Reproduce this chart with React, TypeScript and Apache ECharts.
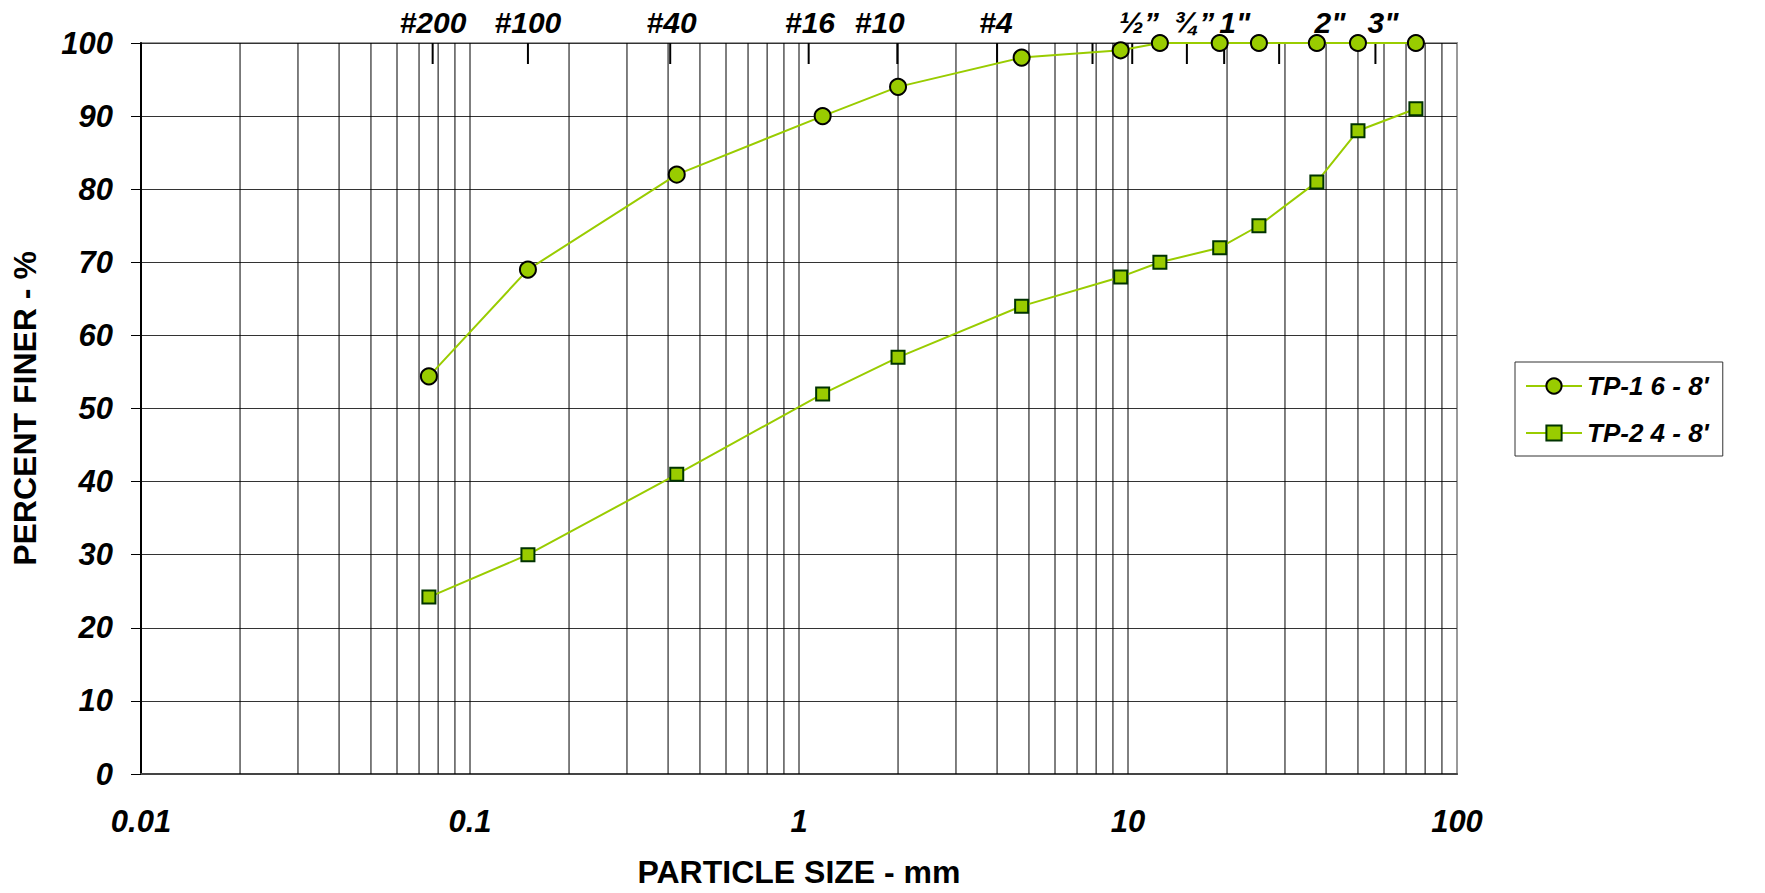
import React, { useEffect, useRef } from "react";
import * as echarts from "echarts";

// particle sizes (mm) of the test points
const sizes = [0.075, 0.15, 0.425, 1.18, 2.0, 4.75, 9.5, 12.5, 19, 25, 37.5, 50, 75];
// percent finer
const tp1 = [54.4, 69, 82, 90, 94, 98, 99, 100, 100, 100, 100, 100, 100];
const tp2 = [24.2, 30, 41, 52, 57, 64, 68, 70, 72, 75, 81, 88, 91];
const seriesNames = ["TP-1 6 - 8'", "TP-2 4 - 8'"];

// sieve marks along the top of the plot
const sieveTickSizes = [0.077, 0.15, 0.406, 1.07, 1.99, 4.0, 7.8, 10.3, 15.1, 19.6, 28.8, 56.5];
const sieveLabels = ["#200", "#100", "#40", "#16", "#10", "#4", "½”", "¾”", "1\"", "2\"", "3\""];
const sieveLabelSizes = [0.0772, 0.15, 0.41, 1.08, 1.76, 3.97, 10.8, 15.9, 21.1, 41.1, 59.6];

// log grid: mantissas within each decade
const mantissas = [1, 2, 3, 4, 5, 6, 7, 8, 9];
const decades = [0.01, 0.1, 1, 10];

const FONT = "'Liberation Sans', Arial, sans-serif";
const GREEN = "#99cc00";

export default function App() {
  const ref = useRef<HTMLDivElement>(null);
  useEffect(() => {
    document.body.style.margin = "0";
    document.body.style.overflow = "hidden";
    const chart = echarts.init(ref.current!, null, { renderer: "svg" });
    const gridValues: number[] = [];
    decades.forEach((d) => mantissas.forEach((m) => {
      const v = +(d * m).toPrecision(3);
      if (v > 0.01 && v < 100) gridValues.push(v);
    }));
    chart.setOption({
      animation: false,
      backgroundColor: "#fff",
      textStyle: { fontFamily: FONT },
      grid: {
        left: 141, right: 308, top: 43, bottom: 116,
        show: true, borderColor: "#9a9a9a", borderWidth: 2, backgroundColor: "transparent",
      },
      legend: {
        orient: "vertical",
        left: 1515, top: 362,
        padding: [9, 14, 8, 10],
        itemGap: 17,
        itemWidth: 56,
        itemHeight: 19,
        borderColor: "#333", borderWidth: 1,
        backgroundColor: "#fff",
        textStyle: { fontFamily: FONT, fontSize: 26, fontWeight: "bold", fontStyle: "italic", color: "#000", lineHeight: 30 },
        data: seriesNames,
      },
      xAxis: {
        type: "log", logBase: 10, min: 0.01, max: 100,
        name: "PARTICLE SIZE - mm", nameLocation: "middle", nameGap: 82,
        nameTextStyle: { fontFamily: FONT, fontSize: 32, fontWeight: "bold", color: "#000" },
        axisLine: { show: true, lineStyle: { color: "#444", width: 2 } },
        axisTick: { show: false },
        splitLine: { show: false },
        axisLabel: {
          margin: 32, fontFamily: FONT, fontSize: 31, fontWeight: "bold", fontStyle: "italic", color: "#000",
          formatter: (v: number) => String(+v.toPrecision(3)),
        },
      },
      yAxis: {
        type: "value", min: 0, max: 100, interval: 10,
        name: "PERCENT FINER - %", nameLocation: "middle", nameGap: 100, nameRotate: 90,
        nameTextStyle: { fontFamily: FONT, fontSize: 32, fontWeight: "bold", color: "#000" },
        axisLine: { show: true, lineStyle: { color: "#000", width: 2 } },
        axisTick: { show: true, length: 10, lineStyle: { color: "#000", width: 1 } },
        splitLine: { show: true, lineStyle: { color: "#333", width: 1 } },
        axisLabel: { margin: 28, fontFamily: FONT, fontSize: 31, fontWeight: "bold", fontStyle: "italic", color: "#000" },
      },
      series: [
        {
          type: "custom", name: "grid", silent: true, z: 1, clip: false,
          data: gridValues.map((v) => [v, 0]),
          encode: { x: 0, y: 1 },
          renderItem: (_p: any, api: any) => {
            const a = api.coord([api.value(0), 0]);
            const b = api.coord([api.value(0), 100]);
            return { type: "line", shape: { x1: a[0], y1: a[1], x2: b[0], y2: b[1] }, style: { stroke: "#000", lineWidth: 1 } };
          },
        },
        {
          type: "custom", name: "sieveTicks", silent: true, z: 3, clip: false,
          data: sieveTickSizes.map((v) => [v, 100]),
          encode: { x: 0, y: 1 },
          renderItem: (_p: any, api: any) => {
            const p = api.coord([api.value(0), 100]);
            return { type: "line", shape: { x1: p[0], y1: p[1], x2: p[0], y2: p[1] + 21 }, style: { stroke: "#000", lineWidth: 2 } };
          },
        },
        {
          type: "custom", name: "sieveLabels", silent: true, z: 3, clip: false,
          data: sieveLabelSizes.map((v, i) => [v, 100, i]),
          encode: { x: 0, y: 1 },
          renderItem: (_p: any, api: any) => {
            const p = api.coord([api.value(0), 100]);
            return {
              type: "text", x: p[0], y: p[1] - 21,
              style: {
                text: sieveLabels[api.value(2)], textAlign: "center", textVerticalAlign: "middle",
                fontFamily: FONT, fontSize: 30, fontWeight: "bold", fontStyle: "italic", fill: "#000",
              },
            };
          },
        },
        {
          type: "line", name: seriesNames[0], z: 5,
          data: sizes.map((s, i) => [s, tp1[i]]),
          symbol: "circle", symbolSize: 16,
          lineStyle: { color: GREEN, width: 2 },
          itemStyle: { color: GREEN, borderColor: "#000", borderWidth: 2 },
        },
        {
          type: "line", name: seriesNames[1], z: 5,
          data: sizes.map((s, i) => [s, tp2[i]]),
          symbol: "rect", symbolSize: 13,
          lineStyle: { color: GREEN, width: 2 },
          itemStyle: { color: GREEN, borderColor: "#003300", borderWidth: 2 },
        },
      ],
    });
    return () => chart.dispose();
  }, []);
  return <div ref={ref} style={{ width: 1765, height: 893 }} />;
}
